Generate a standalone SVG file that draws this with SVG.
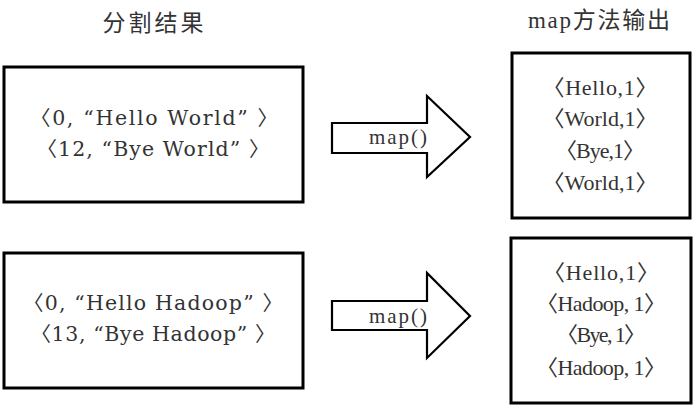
<svg xmlns="http://www.w3.org/2000/svg" width="696" height="410" viewBox="0 0 696 410">
<style>
.box{fill:#fff;stroke:#000;stroke-width:3}
.arrow{fill:#fff;stroke:#000;stroke-width:2.2;stroke-linejoin:miter}
.t{font-family:"DejaVu Serif","Noto Sans CJK SC",serif;font-size:20.5px;fill:#333;text-anchor:middle}
.s{font-family:"Liberation Serif","Noto Sans CJK SC",serif;font-size:22px;fill:#333;text-anchor:middle}
.h{font-family:"Liberation Serif","Noto Sans CJK SC",serif;font-size:23px;fill:#333;text-anchor:middle}
.m{font-family:"Liberation Serif","Noto Sans CJK SC",serif;font-size:21px;fill:#333;text-anchor:middle}
</style>
<rect width="696" height="410" fill="#fff"/>
<g id="title-left"><text class="h" x="153" y="31" textLength="101">分割结果</text></g>
<g id="title-right"><text class="h" x="599" y="28" font-size="21" textLength="142">map方法输出</text></g>
<g id="split1">
<rect class="box" x="4" y="67" width="299" height="135"/>
<text class="t" x="154" y="125" textLength="248">〈0, “Hello World” 〉</text>
<text class="t" x="153" y="156" textLength="233">〈12, “Bye World” 〉</text>
</g>
<g id="split2">
<rect class="box" x="4" y="253" width="299" height="135"/>
<text class="t" x="153" y="310" textLength="260">〈0, “Hello Hadoop” 〉</text>
<text class="t" x="153" y="341" textLength="245">〈13, “Bye Hadoop” 〉</text>
</g>
<g id="out1">
<rect class="box" x="512" y="53" width="178" height="165"/>
<text class="s" x="600" y="95" textLength="115">〈Hello,1〉</text>
<text class="s" x="600" y="126" textLength="115">〈World,1〉</text>
<text class="s" x="600" y="158" textLength="90">〈Bye,1〉</text>
<text class="s" x="600" y="190" textLength="115">〈World,1〉</text>
</g>
<g id="out2">
<rect class="box" x="511" y="238" width="180" height="165"/>
<text class="s" x="601" y="280" textLength="116">〈Hello,1〉</text>
<text class="s" x="601" y="311" textLength="130">〈Hadoop, 1〉</text>
<text class="s" x="601" y="342" textLength="90">〈Bye, 1〉</text>
<text class="s" x="601" y="375" textLength="130">〈Hadoop, 1〉</text>
</g>
<g id="connectors">
<g id="arrow1">
<polygon class="arrow" points="332,123 427,123 427,96 470,137 427,177 427,153 332,153"/>
<text class="m" x="398" y="144" textLength="58">map()</text>
</g>
<g id="arrow2">
<polygon class="arrow" points="332,301 427,301 427,273 470,316 427,358 427,330 332,330"/>
<text class="m" x="398" y="323" textLength="58">map()</text>
</g>
</g>
</svg>
